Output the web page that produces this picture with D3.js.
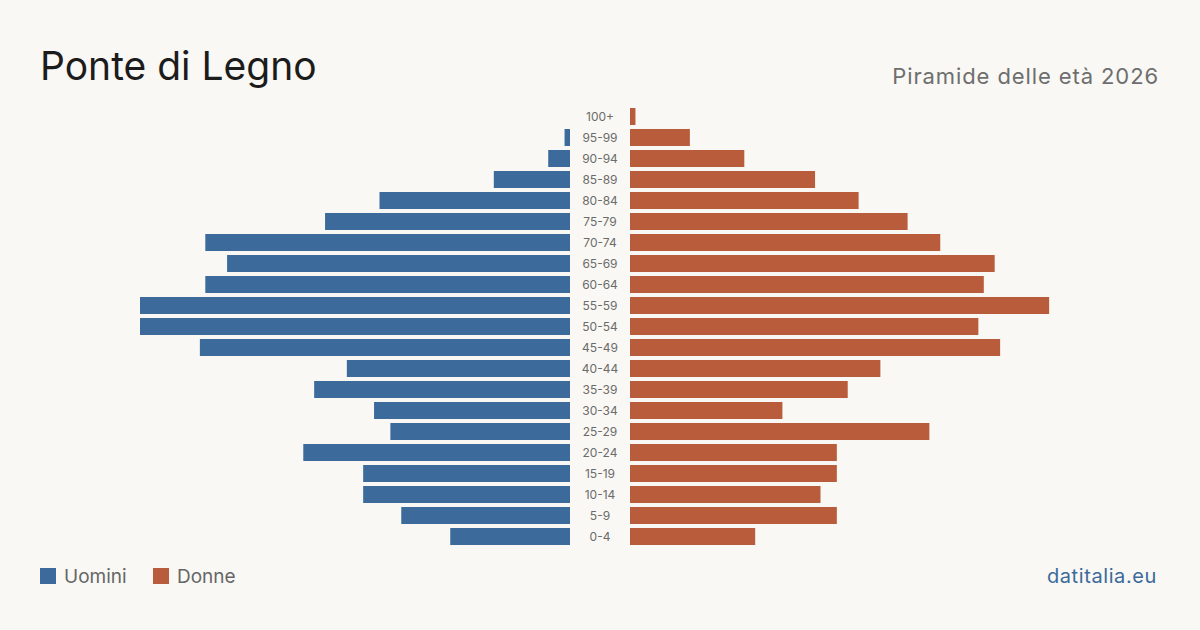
<!DOCTYPE html>
<html lang="it">
<head>
<meta charset="UTF-8" />
<title>Ponte di Legno - Piramide delle età 2026</title>
<script src="https://d3js.org/d3.v7.min.js"></script>
<style>
    body { margin: 0; background: #f9f8f4; }
    svg { display: block; font-family: Inter, "Noto Sans", sans-serif; }
    .age text { font-size: 12px; fill: #6b6b6b; }
</style>
</head>
<body>
<script>
    // fasce d'età, dall'alto verso il basso
    const ageGroups = ["100+", "95-99", "90-94", "85-89", "80-84", "75-79", "70-74", "65-69",
        "60-64", "55-59", "50-54", "45-49", "40-44", "35-39", "30-34", "25-29", "20-24",
        "15-19", "10-14", "5-9", "0-4"];
    const uomini = [0, 1, 4, 14, 35, 45, 67, 63, 67, 79, 79, 68, 41, 47, 36, 33, 49, 38, 38, 31, 22];
    const donne = [1, 11, 21, 34, 42, 51, 57, 67, 65, 77, 64, 68, 46, 40, 28, 55, 38, 38, 35, 38, 23];

    const w = 1200, h = 630;
    const cx = 600, gap = 30;
    const blue = "#3b6a9b", orange = "#b95c3c";

    const svg = d3.select("body").append("svg")
        .attr("width", w)
        .attr("height", h);

    svg.append("rect").attr("width", w).attr("height", h).attr("fill", "#f9f8f4");

    const maxVal = d3.max(uomini.concat(donne));
    const x = d3.scaleLinear().domain([0, maxVal]).range([0, 430]);
    const y = d3.scaleBand().domain(ageGroups).range([106, 547]).paddingInner(0.19).paddingOuter(0.095);

    // barre uomini (a sinistra)
    svg.append("g").selectAll("rect")
        .data(ageGroups)
        .join("rect")
        .attr("x", (d, i) => cx - gap - x(uomini[i]))
        .attr("y", d => y(d))
        .attr("width", (d, i) => x(uomini[i]))
        .attr("height", y.bandwidth())
        .attr("fill", blue);

    // barre donne (a destra)
    svg.append("g").selectAll("rect")
        .data(ageGroups)
        .join("rect")
        .attr("x", cx + gap)
        .attr("y", d => y(d))
        .attr("width", (d, i) => x(donne[i]))
        .attr("height", y.bandwidth())
        .attr("fill", orange);

    svg.append("g").attr("class", "age").selectAll("text")
        .data(ageGroups)
        .join("text")
        .attr("x", cx)
        .attr("y", d => y(d) + y.bandwidth() / 2)
        .attr("dy", "0.35em")
        .attr("text-anchor", "middle")
        .text(d => d);

    // titoli
    svg.append("text")
        .attr("x", 40).attr("y", 80)
        .attr("font-size", 39)
        .attr("fill", "#1c1c1c")
        .text("Ponte di Legno");

    svg.append("text")
        .attr("x", 1159).attr("y", 84)
        .attr("text-anchor", "end")
        .attr("font-size", 22)
        .attr("letter-spacing", 0.9)
        .attr("fill", "#6e6e6e")
        .text("Piramide delle età 2026");

    // legenda
    const legend = svg.append("g").selectAll("g")
        .data([{ name: "Uomini", color: blue }, { name: "Donne", color: orange }])
        .join("g")
        .attr("transform", (d, i) => `translate(${40 + i * 113}, 568)`);

    legend.append("rect")
        .attr("width", 16).attr("height", 16)
        .attr("fill", d => d.color);

    legend.append("text")
        .attr("x", 24).attr("y", 15)
        .attr("font-size", 19)
        .attr("fill", "#666")
        .text(d => d.name);

    svg.append("text")
        .attr("x", 1157).attr("y", 583)
        .attr("text-anchor", "end")
        .attr("font-size", 20)
        .attr("letter-spacing", 0.6)
        .attr("fill", blue)
        .text("datitalia.eu");
</script>
</body>
</html>
